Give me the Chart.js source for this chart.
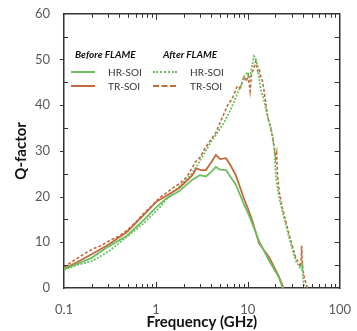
<!DOCTYPE html>
<html>
<head>
<meta charset="utf-8">
<script src="https://cdn.jsdelivr.net/npm/chart.js@4.4.1/dist/chart.umd.min.js"></script>
<style>
  html, body { margin: 0; padding: 0; background: #fff; }
  #wrap { position: relative; width: 357px; height: 331px; font-family: Lato, 'Open Sans', sans-serif; }
  #chart { position: absolute; left: 0; top: 0; }
  .lg { position: absolute; font-size: 10px; color: #333; white-space: nowrap; line-height: 12px; }
  .hd { font-weight: 700; font-style: italic; color: #111; }
  .sw { position: absolute; width: 24px; height: 0; }
</style>
</head>
<body>
<div id="wrap">
  <canvas id="chart" width="357" height="331"></canvas>
  <div class="lg hd" style="left:75px;top:48px;">Before FLAME</div>
  <div class="lg hd" style="left:163px;top:48px;">After FLAME</div>
  <div class="sw" style="left:71px;top:71px;border-top:2px solid #6cbf5f;"></div>
  <div class="sw" style="left:71px;top:85px;border-top:2px solid #c2693d;"></div>
  <div class="sw" style="left:153px;top:71px;border-top:2px dotted #6cbf5f;"></div>
  <div class="sw" style="left:153px;top:85px;border-top:2px dashed #c2693d;width:23px;"></div>
  <div class="lg" style="left:108px;top:66px;">HR-SOI</div>
  <div class="lg" style="left:108px;top:80px;">TR-SOI</div>
  <div class="lg" style="left:190px;top:66px;">HR-SOI</div>
  <div class="lg" style="left:190px;top:80px;">TR-SOI</div>
</div>
<script>
// Frequency (GHz) and Q-factor
const hrBeforeFreq = [0.1, 0.14, 0.2, 0.3, 0.48, 0.72, 1.0, 1.3, 1.8, 2.5, 3.0, 3.5, 4.0, 4.5, 5.0, 5.8, 7.4, 9.0, 10.5, 13.3, 17, 21.7, 24];
const hrBeforeQ    = [4.1, 5.3, 6.6, 9.0, 11.4, 14.7, 17.6, 19.6, 21.2, 23.7, 24.7, 24.4, 25.4, 26.5, 25.9, 25.8, 22.6, 18.5, 15.5, 10.2, 6.0, 2.4, 0];

const trBeforeFreq = [0.1, 0.14, 0.2, 0.3, 0.48, 0.72, 1.0, 1.3, 1.8, 2.5, 2.75, 3.1, 3.5, 4.0, 4.5, 5.0, 5.8, 6.5, 7.4, 9.0, 10.5, 11.2, 13.3, 17, 21.7, 24.5];
const trBeforeQ    = [4.2, 5.7, 7.4, 9.4, 12.2, 15.8, 18.8, 20.2, 21.9, 24.7, 26.2, 25.8, 25.8, 27.5, 29.1, 28.2, 28.4, 26.8, 24.7, 19.8, 16.3, 14.7, 9.7, 6.8, 2.6, 0];

const hrAfterFreq = [0.1, 0.137, 0.208, 0.315, 0.477, 0.72, 1.09, 1.3, 1.53, 1.94, 2.5, 2.97, 3.4, 3.98, 4.6, 5.55, 6.3, 7.0, 7.7, 8.5, 9.2, 10.0, 10.5, 11.2, 11.7, 12.2, 12.8, 13.8, 14.8, 16.4, 17.6, 18.5, 19.5, 20.1, 20.6, 21.2, 22, 23.8, 26, 28.1, 30.5, 33, 35.5, 37.6, 38.8, 39.3, 40, 41];
const hrAfterQ    = [4.0, 5.0, 6.0, 8.2, 11.1, 14.0, 17.5, 19.4, 21.0, 22.8, 25.2, 27.6, 29.7, 32, 33.8, 36.3, 38.5, 40.5, 42.5, 44.5, 46.5, 47.2, 45.8, 48.8, 50.7, 50.2, 48.5, 43.5, 41.5, 37.5, 35.5, 33.4, 30.6, 25, 23.3, 21.5, 19.6, 16.8, 13.8, 11.1, 8.6, 6.1, 5.0, 4.2, 4.0, 5.4, 2.0, 0];

const trAfterFreq = [0.1, 0.137, 0.17, 0.208, 0.25, 0.315, 0.4, 0.477, 0.6, 0.72, 0.9, 1.09, 1.3, 1.53, 1.94, 2.2, 2.7, 3.0, 3.4, 3.83, 4.5, 5.2, 6.0, 6.8, 7.7, 8.3, 9.1, 9.6, 10.1, 10.6, 11.0, 11.7, 12.2, 12.8, 13.3, 13.8, 14.5, 15.2, 16.4, 17.4, 18.5, 19.4, 20.1, 20.6, 21, 22, 23.8, 26, 28.1, 30.5, 33, 35.5, 37.6, 38.2, 38.5, 39.5, 41, 43, 44.5];
const trAfterQ    = [4.6, 6.4, 7.6, 8.6, 9.2, 10.4, 11.4, 12.5, 14.3, 16.1, 18.0, 19.7, 20.8, 21.9, 23.3, 24.5, 27.6, 28.5, 30.5, 32.0, 34, 37, 39.9, 41.5, 44.2, 43.8, 46.3, 45.2, 46.5, 43.1, 46.8, 48.2, 49.6, 47.5, 48, 46.3, 45.2, 42.5, 37.7, 35.5, 33.4, 30.5, 28.3, 29.5, 24.8, 21, 17.5, 14.5, 11.8, 9.2, 6.8, 5.6, 4.6, 7.0, 9.3, 4.5, 2.5, 1.0, 0];

const xTickValues = [0.1, 1, 10, 100];
const yMax = 60;

const green = '#6cbf5f';
const brown = '#c2693d';
const axisColor = '#333';

function pts(fs, qs) {
  return fs.map((f, i) => ({ x: f, y: qs[i] }));
}

// draws the small tick marks on all four sides of the frame
const frameTicks = {
  id: 'frameTicks',
  afterDraw(chart) {
    const { ctx, chartArea: a, scales } = chart;
    const x = scales.x, y = scales.y;
    ctx.save();
    ctx.strokeStyle = axisColor;
    ctx.lineWidth = 1;
    ctx.beginPath();
    for (let d = 0.1; d < 100; d *= 10) {
      for (let m = 1; m <= 9; m++) {
        const v = d * m;
        if (v <= 0.1 || v >= 100) continue;
        const px = Math.round(x.getPixelForValue(v)) + 0.5;
        const len = m === 1 ? 6 : 4;
        ctx.moveTo(px, a.bottom); ctx.lineTo(px, a.bottom - len);
        ctx.moveTo(px, a.top); ctx.lineTo(px, a.top + len);
      }
    }
    for (let v = 5; v < yMax; v += 5) {
      const py = Math.round(y.getPixelForValue(v)) + 0.5;
      if (v % 10 === 0) {
        ctx.moveTo(a.left, py); ctx.lineTo(a.left - 4, py);
      } else {
        ctx.moveTo(a.left, py); ctx.lineTo(a.left + 4, py);
      }
      ctx.moveTo(a.right, py); ctx.lineTo(a.right - 5, py);
    }
    ctx.stroke();
    ctx.restore();
  }
};

const tickFont = { family: "Lato, 'Open Sans', sans-serif", size: 13 };
const titleFont = { family: "Lato, 'Open Sans', sans-serif", size: 15, weight: 'bold' };

new Chart(document.getElementById('chart'), {
  type: 'line',
  data: {
    datasets: [
      { data: pts(hrBeforeFreq, hrBeforeQ), borderColor: green, borderWidth: 1.8 },
      { data: pts(trBeforeFreq, trBeforeQ), borderColor: brown, borderWidth: 1.8 },
      { data: pts(hrAfterFreq, hrAfterQ), borderColor: green, borderWidth: 1.8, borderDash: [2, 1.5] },
      { data: pts(trAfterFreq, trAfterQ), borderColor: brown, borderWidth: 1.6, borderDash: [3, 2] }
    ]
  },
  options: {
    responsive: false,
    animation: false,
    layout: { padding: 0 },
    elements: { point: { radius: 0 }, line: { tension: 0 } },
    plugins: { legend: { display: false }, tooltip: { enabled: false } },
    scales: {
      x: {
        type: 'logarithmic', position: 'bottom', min: 0.1, max: 100,
        afterBuildTicks: s => { s.ticks = xTickValues.map(v => ({ value: v })); },
        afterFit: s => { s.height = 43; },
        ticks: { color: '#595959', font: tickFont, padding: 6, maxRotation: 0, autoSkip: false,
                 callback: v => String(v) },
        grid: { display: false },
        border: { color: axisColor, width: 1.5 },
        title: { display: true, text: 'Frequency (GHz)', color: '#111', font: titleFont, padding: 0 }
      },
      x2: {
        type: 'logarithmic', position: 'top', min: 0.1, max: 100,
        afterFit: s => { s.height = 10; },
        ticks: { display: false }, grid: { display: false },
        border: { color: axisColor, width: 1.5 }
      },
      y: {
        position: 'left', min: 0, max: yMax,
        afterFit: s => { s.width = 64; },
        ticks: { stepSize: 10, color: '#595959', font: tickFont, padding: 6 },
        grid: { display: false },
        border: { color: axisColor, width: 1.5 },
        title: { display: true, text: 'Q-factor', color: '#111', font: titleFont, padding: { top: 12 } }
      },
      y2: {
        position: 'right', min: 0, max: yMax,
        afterFit: s => { s.width = 16; },
        ticks: { display: false }, grid: { display: false },
        border: { color: axisColor, width: 1.5 }
      }
    }
  },
  plugins: [frameTicks]
});
</script>
</body>
</html>
